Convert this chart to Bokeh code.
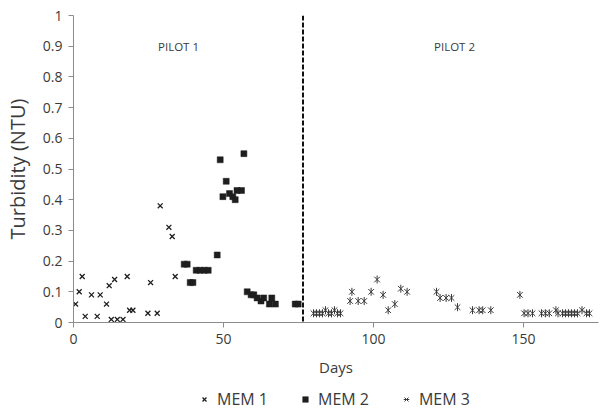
import math
from bokeh.plotting import figure
from bokeh.layouts import column
from bokeh.models import Range1d, FixedTicker, Span, Legend, LegendItem
from bokeh.core.properties import value
from bokeh.embed import file_html
from bokeh.resources import INLINE

# ---------------- data ----------------
mem1_days = [0.7, 1.9, 2.9, 3.9, 6.0, 7.9, 8.9, 11.0, 11.9, 12.6, 13.7, 14.6, 16.5,
             17.9, 18.7, 19.8, 24.8, 25.7, 27.9, 28.9, 31.8, 32.9, 33.9]
mem1_ntu = [0.06, 0.10, 0.15, 0.02, 0.09, 0.02, 0.09, 0.06, 0.12, 0.01, 0.14, 0.01, 0.01,
            0.15, 0.04, 0.04, 0.03, 0.13, 0.03, 0.38, 0.31, 0.28, 0.15]

mem2_days = [36.9, 37.9, 38.9, 39.8, 40.9, 42.2, 43.6, 44.9, 47.9, 48.9, 49.8, 50.9, 52.0,
             53.1, 53.9, 54.5, 56.0, 56.8, 57.9, 59.2, 60.1, 61.2, 62.5, 63.4, 65.3, 66.1,
             67.3, 73.9, 74.9]
mem2_ntu = [0.19, 0.19, 0.13, 0.13, 0.17, 0.17, 0.17, 0.17, 0.22, 0.53, 0.41, 0.46, 0.42,
            0.41, 0.40, 0.43, 0.43, 0.55, 0.10, 0.09, 0.09, 0.08, 0.07, 0.08, 0.06, 0.08,
            0.06, 0.06, 0.06]

mem3_days = [80, 81, 82, 83, 84, 85, 86, 87, 88, 89,
             92.2, 92.8, 94.9, 96.9, 99.2, 101.2, 103.2, 104.9, 107.1, 109.1, 111.2,
             121.0, 122.2, 124.2, 126.0, 128.0, 133.0, 135.2, 136.4, 139.1, 148.8,
             150.2, 151.5, 153.0, 156.0, 157.3, 158.6, 160.8, 161.5, 163, 164, 165, 166,
             167, 168, 169.5, 171.0, 172.0]
mem3_ntu = [0.03, 0.03, 0.03, 0.03, 0.04, 0.03, 0.03, 0.04, 0.03, 0.03,
            0.07, 0.10, 0.07, 0.07, 0.10, 0.14, 0.09, 0.04, 0.06, 0.11, 0.10,
            0.10, 0.08, 0.08, 0.08, 0.05, 0.04, 0.04, 0.04, 0.04, 0.09,
            0.03, 0.03, 0.03, 0.03, 0.03, 0.03, 0.04, 0.03, 0.03, 0.03, 0.03, 0.03,
            0.03, 0.03, 0.04, 0.03, 0.03]

series_names = ["MEM 1", "MEM 2", "MEM 3"]
pilot_split_day = 76.5
pilot_labels = ["PILOT 1", "PILOT 2"]
pilot_label_x = [35, 127]
pilot_label_y = [0.9, 0.9]

x_ticks = [0, 50, 100, 150]
y_ticks = [0, 0.1, 0.2, 0.3, 0.4, 0.5, 0.6, 0.7, 0.8, 0.9, 1.0]
y_tick_labels = ["0", "0.1", "0.2", "0.3", "0.4", "0.5", "0.6", "0.7", "0.8", "0.9", "1"]

# ---------------- styling ----------------
FONT = "Open Sans"
TEXT_COLOR = "#3a3a3a"
AXIS_COLOR = "#8c8c8c"
MARK = "#1e1e1e"
MARK3 = "#3a3a3a"

p = figure(width=608, height=384, output_backend="svg", toolbar_location=None,
           x_range=Range1d(0, 175), y_range=Range1d(0, 1),
           min_border_left=72, min_border_right=10, min_border_top=15, min_border_bottom=62)
p.outline_line_color = None
p.xgrid.visible = False
p.ygrid.visible = False

for ax in (p.xaxis[0], p.yaxis[0]):
    ax.axis_line_color = AXIS_COLOR
    ax.major_tick_line_color = AXIS_COLOR
    ax.minor_tick_line_color = None
    ax.major_tick_in = 0
    ax.major_tick_out = 5
    ax.major_label_text_font = FONT
    ax.major_label_text_color = TEXT_COLOR
    ax.major_label_text_font_size = "14px"
    ax.axis_label_text_font = FONT
    ax.axis_label_text_color = TEXT_COLOR
    ax.axis_label_text_font_style = "normal"

p.xaxis.ticker = FixedTicker(ticks=x_ticks)
p.xaxis.axis_label = "Days"
p.xaxis.axis_label_text_font_size = "15px"
p.xaxis.major_label_standoff = 6
p.xaxis.axis_label_standoff = 10

p.yaxis.ticker = FixedTicker(ticks=y_ticks)
p.yaxis.major_label_overrides = {t: l for t, l in zip(y_ticks, y_tick_labels)}
p.yaxis.axis_label = "Turbidity (NTU)"
p.yaxis.axis_label_text_font_size = "20px"
p.yaxis.major_label_standoff = 6
p.yaxis.axis_label_standoff = 9

# pilot separator and labels
p.add_layout(Span(location=pilot_split_day, dimension="height", line_color="#111111",
                  line_width=2, line_dash="5 2"))
p.text(x=pilot_label_x, y=pilot_label_y, text=pilot_labels, text_font=value(FONT),
       text_font_size="11.5px", text_color=TEXT_COLOR, text_align="center",
       text_baseline="middle")

# series
def draw_series(fig):
    a = fig.scatter(mem1_days, mem1_ntu, marker="x", size=7, line_color=MARK, line_width=1.3)
    b = fig.scatter(mem2_days, mem2_ntu, marker="square", size=6, fill_color=MARK,
                    line_color=MARK, line_width=0.5)
    c1 = fig.scatter(mem3_days, mem3_ntu, marker="x", size=8, line_color=MARK3, line_width=1.0)
    c2 = fig.scatter(mem3_days, mem3_ntu, marker="dash", size=8, angle=math.pi / 2,
                     line_color=MARK3, line_width=1.0)
    return [[a], [b], [c1, c2]]

draw_series(p)

# legend strip: a separate figure whose frame shows no data (y range above all values),
# so the legend is not clipped by the main plot frame
lf = figure(width=608, height=28, output_backend="svg", toolbar_location=None,
            x_range=Range1d(0, 175), y_range=Range1d(2, 3),
            min_border_left=72, min_border_right=10, min_border_top=2, min_border_bottom=0)
lf.axis.visible = False
lf.grid.visible = False
lf.outline_line_color = None
legend_rends = draw_series(lf)
legend = Legend(items=[LegendItem(label=n, renderers=r) for n, r in zip(series_names, legend_rends)],
                location="left", orientation="horizontal",
                padding=0, margin=124, spacing=30, border_line_color=None,
                background_fill_alpha=0, glyph_width=14, glyph_height=14,
                label_standoff=6, label_text_font=FONT, label_text_font_size="16px",
                label_text_color=TEXT_COLOR)
lf.add_layout(legend, "center")

layout = column(p, lf, spacing=0)
open("out.html", "w").write(file_html(layout, INLINE))
